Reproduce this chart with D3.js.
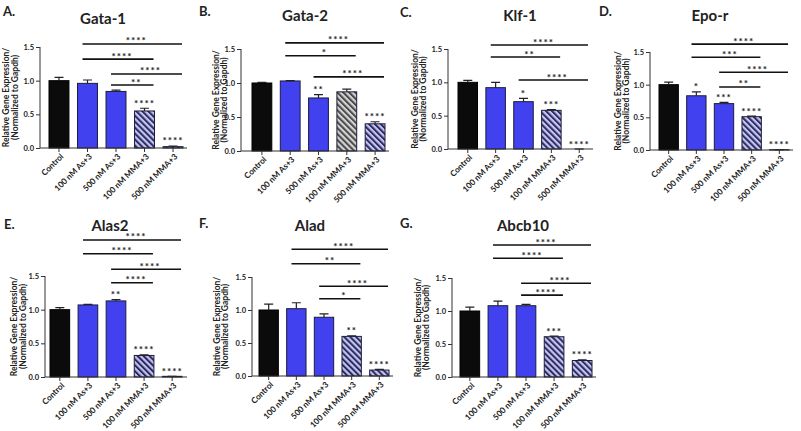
<!DOCTYPE html>
<html lang="en">
<head>
<meta charset="UTF-8">
<title>Erythroid gene expression</title>
<script src="https://cdn.jsdelivr.net/npm/d3@7"></script>
<style>
    * { margin: 0; padding: 0; }
    body { background: #fff; }
    text { font-family: Lato, "Open Sans", sans-serif; fill: #222; }
</style>
</head>
<body></body>
<script>
    const width = 801
    const height = 431

    // groups on the x axis, same for every panel
    const groups = ['Control', '100 nM As+3', '500 nM As+3', '100 nM MMA+3', '500 nM MMA+3']
    const yTicks = [0, 0.5, 1.0, 1.5]

    // mean, error, stars over bars, brackets [from, to, height, label]
    const gata1 = [1.0, 0.96, 0.84, 0.55, 0.02]
    const gata1Err = [0.05, 0.05, 0.02, 0.04, 0.01]
    const gata1Stars = ['', '', '', '****', '****']
    const gata1Sig = [[1, 4, 1.545, '****'], [1, 3, 1.32, '****'], [2, 4, 1.10, '****'], [2, 3, 0.935, '**']]

    const gata2 = [1.0, 1.03, 0.78, 0.87, 0.40]
    const gata2Err = [0.01, 0.005, 0.05, 0.04, 0.03]
    const gata2Stars = ['', '', '**', '', '****']
    const gata2Sig = [[1, 4, 1.59, '****'], [1, 3, 1.40, '*'], [2, 4, 1.09, '****']]

    const klf1 = [1.0, 0.92, 0.71, 0.58, 0.0]
    const klf1Err = [0.03, 0.08, 0.05, 0.01, 0.0]
    const klf1Stars = ['', '', '*', '***', '****']
    const klf1Sig = [[1, 4, 1.56, '****'], [1, 3, 1.38, '**'], [2, 4, 1.035, '****']]

    const epor = [1.0, 0.83, 0.71, 0.51, 0.005]
    const eporErr = [0.04, 0.06, 0.02, 0.01, 0.0]
    const eporStars = ['', '*', '***', '****', '****']
    const eporSig = [[1, 4, 1.62, '****'], [1, 3, 1.42, '***'], [2, 4, 1.19, '****'], [2, 3, 0.965, '**']]

    const alas2 = [1.0, 1.07, 1.13, 0.32, 0.01]
    const alas2Err = [0.03, 0.01, 0.02, 0.01, 0.0]
    const alas2Stars = ['', '', '**', '****', '****']
    const alas2Sig = [[1, 4, 2.035, '****'], [1, 3, 1.83, '****'], [2, 4, 1.60, '****'], [2, 3, 1.40, '****']]

    const alad = [1.0, 1.02, 0.89, 0.60, 0.09]
    const aladErr = [0.09, 0.09, 0.05, 0.01, 0.01]
    const aladStars = ['', '', '', '**', '****']
    const aladSig = [[1, 4, 1.92, '****'], [1, 3, 1.70, '**'], [2, 4, 1.36, '****'], [2, 3, 1.17, '*']]

    const abcb10 = [1.0, 1.08, 1.08, 0.61, 0.25]
    const abcb10Err = [0.06, 0.07, 0.02, 0.01, 0.01]
    const abcb10Stars = ['', '', '', '***', '****']
    const abcb10Sig = [[1, 4, 2.0, '****'], [1, 3, 1.80, '****'], [2, 4, 1.42, '****'], [2, 3, 1.24, '****']]

    // panel placement
    const panels = [
        { tag: 'A.', title: 'Gata-1', vals: gata1, errs: gata1Err, stars: gata1Stars, sig: gata1Sig,
          ax: 40, b0: 49, b1: 183, end: 187, y0: 148, y15: 47, tx: 103, ty: 24, lx: 3, ly: 16, yl: [9, 18], grayMMA: false },
        { tag: 'B.', title: 'Gata-2', vals: gata2, errs: gata2Err, stars: gata2Stars, sig: gata2Sig,
          ax: 241, b0: 252, b1: 385, end: 389, y0: 151, y15: 49, tx: 305, ty: 21, lx: 199, ly: 16, yl: [219, 227], grayMMA: true },
        { tag: 'C.', title: 'Klf-1', vals: klf1, errs: klf1Err, stars: klf1Stars, sig: klf1Sig,
          ax: 448, b0: 458, b1: 589, end: 593, y0: 149, y15: 49, tx: 520, ty: 21, lx: 400, ly: 17, yl: [418, 426], grayMMA: false },
        { tag: 'D.', title: 'Epo-r', vals: epor, errs: eporErr, stars: eporStars, sig: eporSig,
          ax: 650, b0: 659, b1: 789, end: 793, y0: 150, y15: 52, tx: 710, ty: 21, lx: 599, ly: 16, yl: [621, 629], grayMMA: false },
        { tag: 'E.', title: 'Alas2', vals: alas2, errs: alas2Err, stars: alas2Stars, sig: alas2Sig,
          ax: 45, b0: 50, b1: 182, end: 187, y0: 377, y15: 276, tx: 110, ty: 231, lx: 4, ly: 229, yl: [17, 26], grayMMA: false },
        { tag: 'F.', title: 'Alad', vals: alad, errs: aladErr, stars: aladStars, sig: aladSig,
          ax: 252, b0: 259, b1: 389, end: 393, y0: 376, y15: 277, tx: 310, ty: 231, lx: 199, ly: 228, yl: [220, 228], grayMMA: false },
        { tag: 'G.', title: 'Abcb10', vals: abcb10, errs: abcb10Err, stars: abcb10Stars, sig: abcb10Sig,
          ax: 452, b0: 460, b1: 592, end: 596, y0: 377, y15: 278, tx: 523, ty: 231, lx: 400, ly: 228, yl: [421, 429], grayMMA: false }
    ]

    const svg = d3.select('body')
        .append('svg')
        .attr('width', width)
        .attr('height', height)

    // hatch fills for the MMA bars
    const defs = svg.append('defs')
    function hatch(id, bg, fg) {
        const p = defs.append('pattern')
            .attr('id', id)
            .attr('patternUnits', 'userSpaceOnUse')
            .attr('width', 4.2)
            .attr('height', 4.2)
            .attr('patternTransform', 'rotate(-45)')
        p.append('rect').attr('width', 4.2).attr('height', 4.2).attr('fill', bg)
        p.append('rect').attr('width', 2).attr('height', 4.2).attr('fill', fg)
    }
    hatch('hatchBlue', '#c4c4ee', '#2a2a62')
    hatch('hatchGray', '#d2d2d2', '#484848')

    panels.forEach(p => {
        const g = svg.append('g')

        const x = d3.scaleBand()
            .domain(d3.range(groups.length))
            .range([p.b0, p.b1])
            .paddingInner(0.3)
            .paddingOuter(0)
        const y = d3.scaleLinear()
            .domain([0, 1.5])
            .range([p.y0, p.y15])
        const bw = x.bandwidth()

        const fills = ['#0b0b0b', '#4141ef', '#4141ef',
            p.grayMMA ? 'url(#hatchGray)' : 'url(#hatchBlue)', 'url(#hatchBlue)']

        // bars
        g.selectAll('.bar')
            .data(p.vals)
            .enter()
            .append('rect')
            .attr('x', (d, i) => x(i))
            .attr('y', d => y(d))
            .attr('width', bw)
            .attr('height', d => p.y0 - y(d))
            .attr('fill', (d, i) => fills[i])
            .attr('stroke', (d, i) => i === 0 ? '#000' : '#1c1c3c')
            .attr('stroke-width', 1)

        // upper error bars
        g.selectAll('.err')
            .data(p.vals)
            .enter()
            .append('path')
            .attr('d', (d, i) => {
                const cx = x(i) + bw / 2
                const top = y(d + p.errs[i])
                return 'M' + cx + ',' + y(d) + 'V' + top + 'M' + (cx - 4.5) + ',' + top + 'H' + (cx + 4.5)
            })
            .attr('stroke', '#222')
            .attr('stroke-width', 1.2)
            .attr('fill', 'none')

        // y axis
        const yAxis = d3.axisLeft(y)
            .tickValues(yTicks)
            .tickFormat(d3.format('.1f'))
            .tickSize(4)
            .tickPadding(2)
        const ya = g.append('g')
            .attr('transform', 'translate(' + p.ax + ',0)')
            .call(yAxis)
        ya.select('.domain').attr('stroke', '#333').attr('d', 'M0,' + p.y0 + 'V' + p.y15)
        ya.selectAll('line').attr('stroke', '#333')
        ya.selectAll('text').style('font-size', '7.5px').style('font-weight', 'bold').attr('fill', '#444')

        // x axis
        const xa = g.append('g')
            .attr('transform', 'translate(0,' + p.y0 + ')')
        xa.append('line')
            .attr('x1', p.ax).attr('x2', p.end)
            .attr('stroke', '#333').attr('stroke-width', 1.2)
        xa.selectAll('.tk')
            .data(groups)
            .enter()
            .append('line')
            .attr('x1', (d, i) => x(i) + bw / 2)
            .attr('x2', (d, i) => x(i) + bw / 2)
            .attr('y1', 0).attr('y2', 4)
            .attr('stroke', '#333')
        xa.selectAll('.lbl')
            .data(groups)
            .enter()
            .append('text')
            .attr('transform', (d, i) => 'translate(' + (x(i) + bw / 2 + 3) + ',7) rotate(-45)')
            .attr('text-anchor', 'end')
            .attr('dy', '0.35em')
            .style('font-size', '8.2px')
            .style('font-weight', 'bold')
            .attr('fill', '#333')
            .text(d => d)

        // stars above bars
        g.selectAll('.star')
            .data(p.stars)
            .enter()
            .append('text')
            .attr('x', (d, i) => x(i) + bw / 2)
            .attr('y', (d, i) => y(p.vals[i] + p.errs[i]) - 1.5)
            .attr('text-anchor', 'middle')
            .style('font-size', '10px')
            .style('font-weight', 'bold')
            .style('letter-spacing', '1px')
            .text(d => d)

        // comparison brackets
        g.selectAll('.sig')
            .data(p.sig)
            .enter()
            .append('line')
            .attr('x1', d => x(d[0]) + bw * 0.25)
            .attr('x2', d => x(d[1]) + bw * 0.95)
            .attr('y1', d => y(d[2]))
            .attr('y2', d => y(d[2]))
            .attr('stroke', '#111')
            .attr('stroke-width', 1.6)
        g.selectAll('.sigt')
            .data(p.sig)
            .enter()
            .append('text')
            .attr('x', d => (x(d[0]) + bw * 0.25 + x(d[1]) + bw * 0.95) / 2 + 4)
            .attr('y', d => y(d[2]) + 0.5)
            .attr('text-anchor', 'middle')
            .style('font-size', '10px')
            .style('font-weight', 'bold')
            .style('letter-spacing', '1px')
            .text(d => d[3])

        // y title, two lines
        const yc = (p.y0 + p.y15) / 2
        const yt = ['Relative Gene  Expression/', '(Normalized to Gapdh)']
        g.selectAll('.ytitle')
            .data(yt)
            .enter()
            .append('text')
            .attr('transform', (d, i) => 'translate(' + p.yl[i] + ',' + yc + ') rotate(-90)')
            .attr('text-anchor', 'middle')
            .style('font-size', '8.5px')
            .style('font-weight', 'bold')
            .attr('fill', '#333')
            .text(d => d)

        // title and panel letter
        g.append('text')
            .attr('x', p.tx).attr('y', p.ty)
            .attr('text-anchor', 'middle')
            .style('font-size', '15px')
            .style('font-weight', 'bold')
            .attr('fill', '#1a1a1a')
            .text(p.title)
        g.append('text')
            .attr('x', p.lx).attr('y', p.ly)
            .style('font-size', '13px')
            .style('font-weight', 'bold')
            .attr('fill', '#1a1a1a')
            .text(p.tag)
    })
</script>
</html>
